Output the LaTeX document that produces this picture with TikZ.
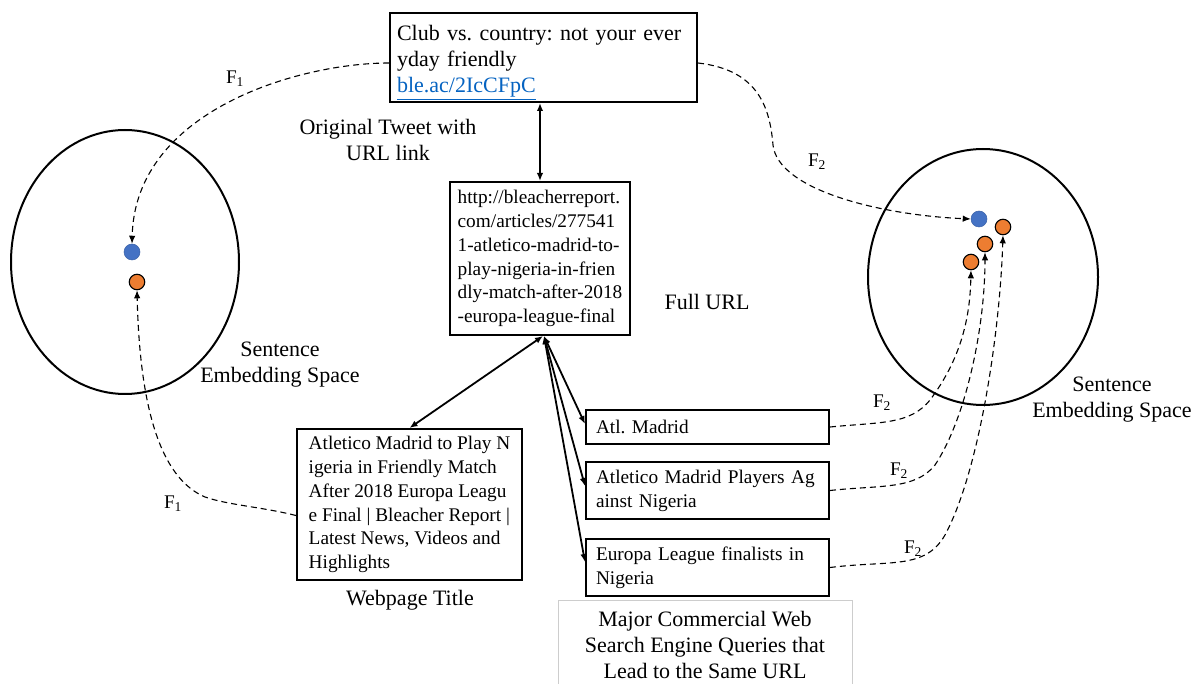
\documentclass[tikz,border=0pt]{standalone}
\usepackage{fontspec}
\setmainfont{Liberation Serif}
\frenchspacing
\usetikzlibrary{arrows.meta,shapes.geometric}
\definecolor{linkblue}{RGB}{5,99,193}
\definecolor{dotblue}{RGB}{68,114,196}
\definecolor{dotorange}{RGB}{237,125,49}
\definecolor{framegray}{RGB}{205,205,205}
\newcommand\bigfnt{\fontsize{22}{26}\selectfont}
\newcommand\smallfnt{\fontsize{19.3}{23.8}\selectfont}
\begin{document}
\begin{tikzpicture}[x=1pt,y=-1pt,
  box/.style={draw, line width=2pt, inner sep=0pt, align=left, font=\smallfnt},
  lab/.style={align=center, font=\bigfnt, inner sep=0pt},
  flab/.style={font=\smallfnt, inner sep=0pt},
  conn/.style={line width=1.8pt, {Latex[length=8pt,width=6.5pt]}-{Latex[length=8pt,width=6.5pt]}},
  map/.style={dash pattern=on 6pt off 4pt, line width=1.1pt, -{Latex[length=8pt,width=6.5pt]}},
  space/.style={draw, ellipse, line width=2pt, inner sep=0pt},
  dotb/.style={circle, fill=dotblue, draw=dotblue!85!black, line width=0.5pt, minimum size=16pt, inner sep=0pt},
  doto/.style={circle, fill=dotorange, draw=black, line width=1.1pt, minimum size=15.5pt, inner sep=0pt}
]
\useasboundingbox (0,0) rectangle (1195,684);

% embedding spaces
\node[space, minimum width=228pt, minimum height=264pt] (E1) at (125,262) {};
\node[space, minimum width=230pt, minimum height=256pt] (E2) at (983,277) {};

% dots
\node[dotb] (b1) at (132,252) {};
\node[doto] (o1) at (137,282) {};
\node[dotb] (b2) at (979,219) {};
\node[doto] (o2a) at (1003,227) {};
\node[doto] (o2b) at (985,244) {};
\node[doto] (o2c) at (971,262) {};

% boxes
\node[box, font=\bigfnt, minimum width=307pt, minimum height=89pt, text width=293pt] (tweet) at (543.5,57.5)
  {\rule{0pt}{25pt}Club vs. country: not your ever\\yday friendly\\\textcolor{linkblue}{\underline{ble.ac/2IcCFpC}}};
\node[box, minimum width=180pt, minimum height=153pt] (url) at (540,258.5)
  {http://bleacherreport.\\com/articles/277541\\1-atletico-madrid-to-\\play-nigeria-in-frien\\dly-match-after-2018\\-europa-league-final};
\node[box, minimum width=225pt, minimum height=151pt] (web) at (409.5,504.5)
  {Atletico Madrid to Play N\\igeria in Friendly Match\\After 2018 Europa Leagu\\e Final | Bleacher Report |\\Latest News, Videos and\\Highlights};
\node[box, minimum width=243pt, minimum height=34pt, text width=223pt] (q1) at (707.5,427) {Atl. Madrid};
\node[box, minimum width=243pt, minimum height=57pt, text width=223pt] (q2) at (707.5,490.5) {Atletico Madrid Players Ag\\ainst Nigeria};
\node[box, minimum width=243pt, minimum height=57pt, text width=223pt] (q3) at (707.5,567.5) {Europa League finalists in\\Nigeria};

% labels
\node[lab] (ltweet) at (388,140) {Original Tweet with\\URL link};
\node[lab] (lurl) at (707,302) {Full URL};
\node[lab] (lweb) at (410,600) {Webpage Title};
\node[lab] (lE1) at (280,365) {Sentence\\Embedding Space};
\node[lab] (lE2) at (1112,400) {Sentence\\Embedding Space};
\node[lab, draw=framegray, line width=0.8pt, minimum width=294pt, minimum height=90pt] (lq) at (705,645)
  {Major Commercial Web\\Search Engine Queries that\\Lead to the Same URL};

% F labels
\node[flab] (f1a) at (235,79) {F\textsubscript{1}};
\node[flab] (f1b) at (173,504) {F\textsubscript{1}};
\node[flab] (f2a) at (817,162) {F\textsubscript{2}};
\node[flab] (f2b) at (882,403) {F\textsubscript{2}};
\node[flab] (f2c) at (899,471) {F\textsubscript{2}};
\node[flab] (f2d) at (913,549) {F\textsubscript{2}};

% solid connectors
\draw[conn] (url.north |- tweet.south) -- (url.north);
\draw[conn] ([xshift=3pt]url.south) -- (web.north);
\draw[conn] ([xshift=4pt]url.south) -- ([yshift=3pt]q1.west);
\draw[conn] ([xshift=4pt]url.south) -- ([yshift=4.5pt]q2.west);
\draw[conn] ([xshift=4pt]url.south) -- ([yshift=5.5pt]q3.west);

% mapping connectors
\draw[map] ([yshift=-5.5pt]tweet.west) .. controls (300,63) and (135,110) .. (b1.north);
\draw[map] ([yshift=-11pt]web.west) .. controls (262,507) and (228,505) .. (205,497)
  .. controls (165,480) and (140,420) .. (o1.south);
\draw[map] ([yshift=-5.5pt]tweet.east) .. controls (760,70) and (770,110) .. (773,145)
  .. controls (778,190) and (880,215) .. (b2.west);
\draw[map] (q1.east) .. controls (880,422) and (910,425) .. (930,400)
  .. controls (960,360) and (970,320) .. (o2c.south);
\draw[map] (q2.east) .. controls (880,485) and (915,490) .. (935,465)
  .. controls (965,420) and (985,330) .. (o2b.south);
\draw[map] (q3.east) .. controls (890,560) and (925,570) .. (945,535)
  .. controls (980,470) and (1000,330) .. (o2a.south);
\end{tikzpicture}
\end{document}
